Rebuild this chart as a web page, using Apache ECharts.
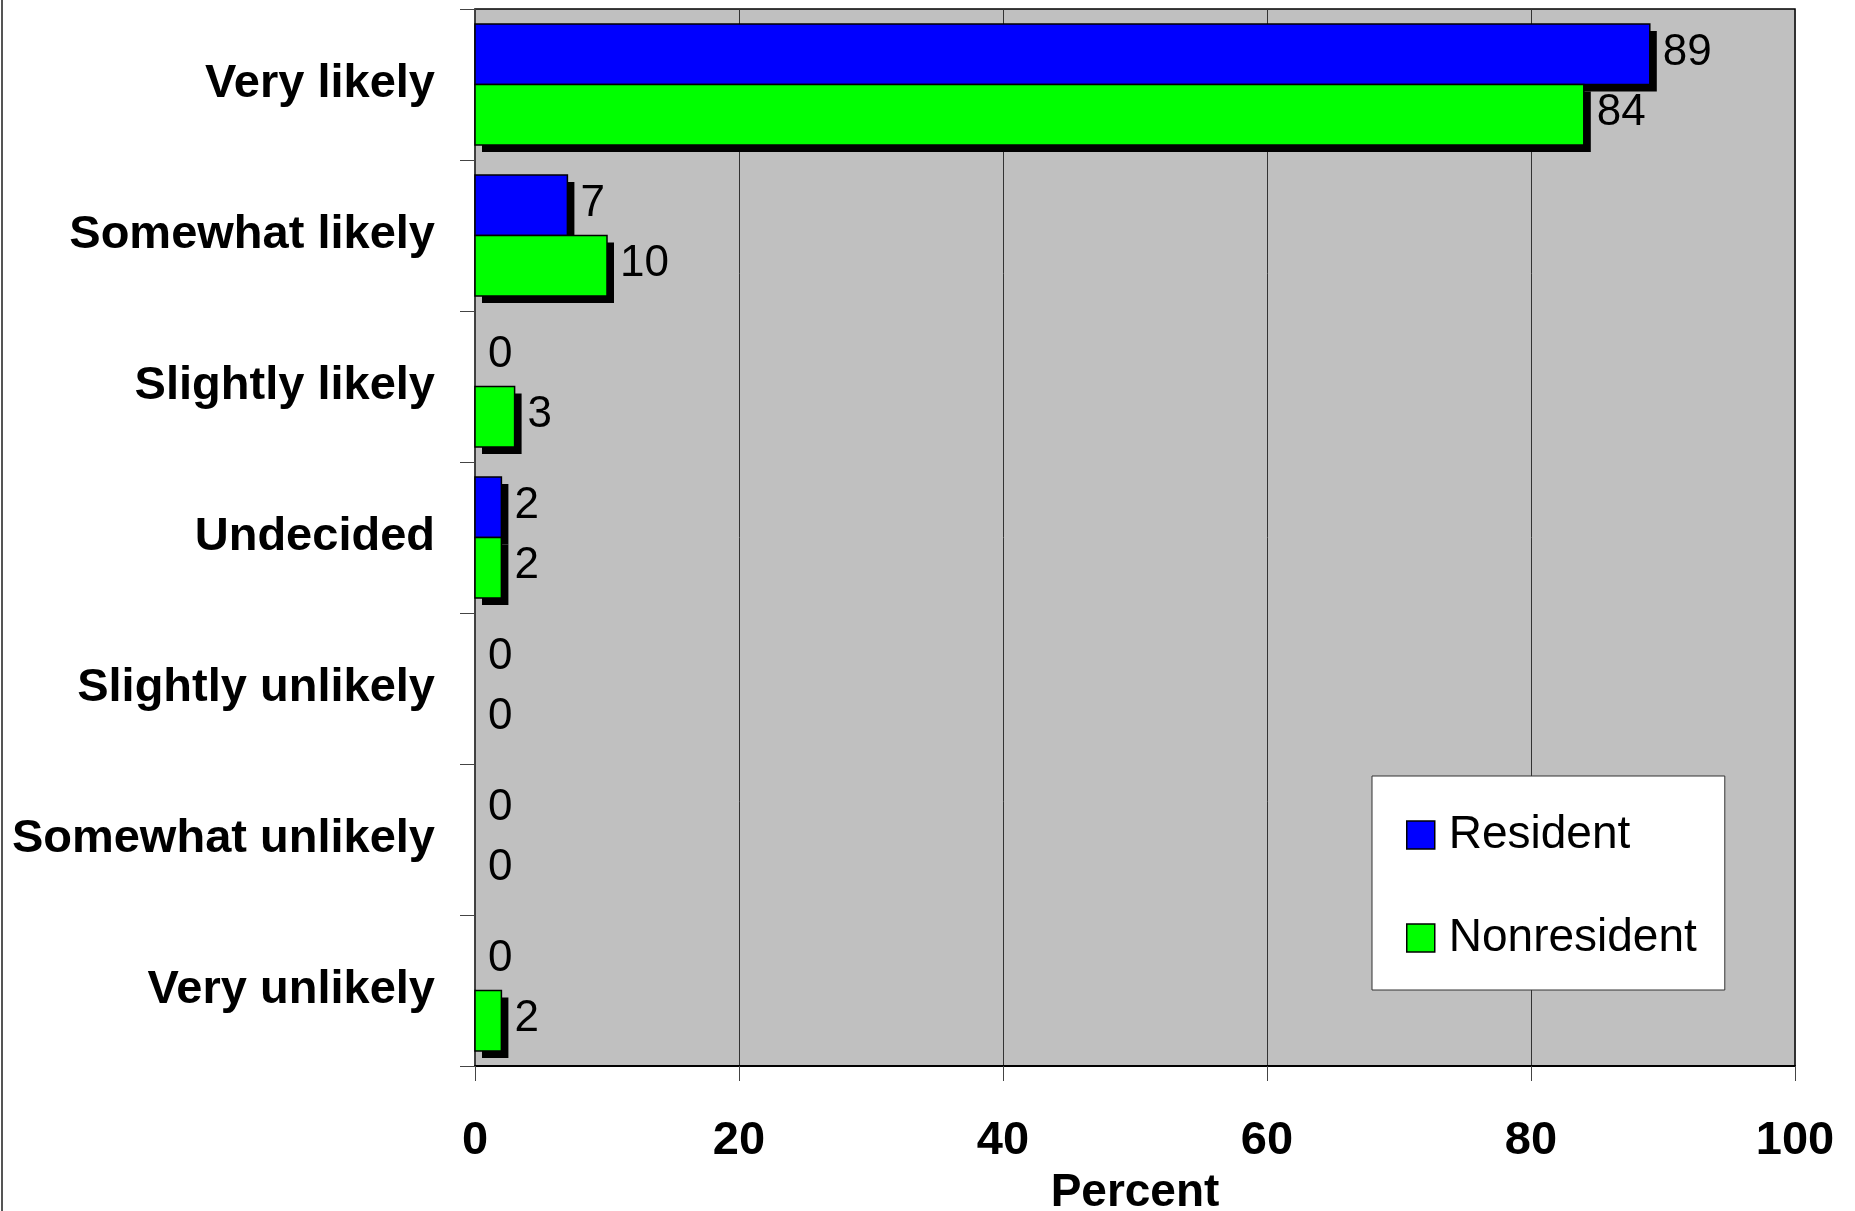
<!DOCTYPE html>
<html>
<head>
<meta charset="utf-8">
<script src="https://cdn.jsdelivr.net/npm/echarts@6/dist/echarts.min.js"></script>
<style>
html,body{margin:0;padding:0;background:#fff;}
#chart{width:1855px;height:1211px;}
</style>
</head>
<body>
<div id="chart"></div>
<script>
const categories = ['Very likely','Somewhat likely','Slightly likely','Undecided','Slightly unlikely','Somewhat unlikely','Very unlikely'];
const resident = [89, 7, 0, 2, 0, 0, 0];
const nonresident = [84, 10, 3, 2, 0, 0, 2];
const xTicks = [0, 20, 40, 60, 80, 100];

const FONT = '"Liberation Sans", Arial, sans-serif';
const SHADOW = 7;
const GROUP_FRAC = 0.8;   // bars occupy 80% of category band
const NSERIES = 2;

function makeRender(color, slot) {
  return function (params, api) {
    const val = api.value(0);
    const cat = api.value(1);
    const band = api.size([0, 1])[1];
    const barH = band * GROUP_FRAC / NSERIES;
    const c0 = api.coord([0, cat]);
    const c1 = api.coord([val, cat]);
    const y = c0[1] - band * GROUP_FRAC / 2 + slot * barH;
    const x = c0[0];
    const w = c1[0] - c0[0];
    const children = [];
    if (val > 0) {
      children.push({
        type: 'rect',
        shape: { x: x + SHADOW, y: y + SHADOW, width: w, height: barH },
        style: { fill: '#000' },
        z2: 1
      });
      children.push({
        type: 'rect',
        shape: { x: x, y: y, width: w, height: barH },
        style: { fill: color, stroke: '#000', lineWidth: 1.5 },
        z2: 2
      });
    }
    children.push({
      type: 'text',
      x: c1[0] + 13,
      y: y + barH / 2 - 1.5,
      style: {
        text: String(val),
        fill: '#000',
        fontFamily: FONT,
        fontSize: 44,
        align: 'left',
        verticalAlign: 'middle'
      },
      z2: 10
    });
    return { type: 'group', children: children };
  };
}

function series(name, color, arr, slot) {
  return {
    name: name,
    type: 'custom',
    renderItem: makeRender(color, slot),
    encode: { x: 0, y: 1 },
    data: arr.map((v, i) => [v, i]),
    itemStyle: { color: color, borderColor: '#000', borderWidth: 1.5 },
    emphasis: { disabled: true },
    animation: false
  };
}

const chart = echarts.init(document.getElementById('chart'), null, { renderer: 'canvas' });
chart.setOption({
  animation: false,
  backgroundColor: '#fff',
  textStyle: { fontFamily: FONT },
  grid: {
    left: 475, right: 60, top: 9, bottom: 145,
    containLabel: false,
    outerBoundsMode: 'none',
    show: true,
    backgroundColor: '#c0c0c0',
    borderColor: '#000',
    borderWidth: 1.5
  },
  legend: {
    orient: 'vertical',
    left: 1372,
    top: 776,
    backgroundColor: '#fff',
    borderColor: '#333',
    borderWidth: 1,
    padding: [34, 28, 27, 34],
    itemWidth: 28,
    itemHeight: 28,
    itemGap: 53,
    icon: 'rect',
    itemStyle: { borderColor: '#000', borderWidth: 1.5 },
    textStyle: { fontFamily: FONT, fontSize: 46, color: '#000', lineHeight: 50, padding: [0, 0, 0, 9] },
    data: ['Resident', 'Nonresident']
  },
  xAxis: {
    type: 'value',
    min: xTicks[0],
    max: xTicks[xTicks.length - 1],
    interval: xTicks[1] - xTicks[0],
    name: 'Percent',
    nameLocation: 'middle',
    nameGap: 99,
    nameTextStyle: { fontFamily: FONT, fontSize: 46, fontWeight: 'bold', color: '#000' },
    axisLine: { show: true, onZero: false, lineStyle: { color: '#000', width: 2 } },
    axisTick: { show: true, inside: false, length: 15, lineStyle: { color: '#444', width: 1 } },
    axisLabel: { fontFamily: FONT, fontSize: 47, fontWeight: 'bold', color: '#000', margin: 52 },
    splitLine: { show: true, lineStyle: { color: '#333', width: 1 } }
  },
  yAxis: {
    type: 'category',
    data: categories,
    inverse: true,
    axisLine: { show: true, lineStyle: { color: '#444', width: 1.5 } },
    axisTick: { show: true, inside: false, length: 15, lineStyle: { color: '#444', width: 1 } },
    axisLabel: { fontFamily: FONT, fontSize: 47, fontWeight: 'bold', color: '#000', margin: 40 },
    splitLine: { show: false }
  },
  series: [
    series('Resident', '#0000ff', resident, 0),
    series('Nonresident', '#00ff00', nonresident, 1)
  ],
  graphic: [
    { type: 'line', shape: { x1: 2, y1: 0, x2: 2, y2: 1211 }, style: { stroke: '#555', lineWidth: 2 }, silent: true }
  ]
});
</script>
</body>
</html>
